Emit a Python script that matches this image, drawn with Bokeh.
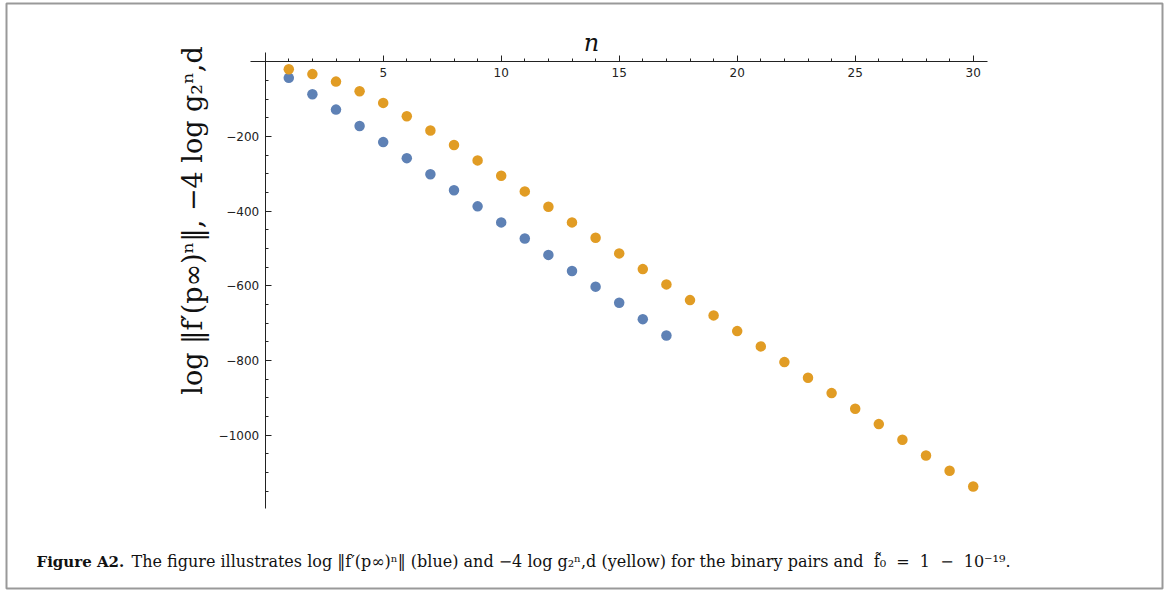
import math
from bokeh.plotting import figure
from bokeh.models import Range1d, FixedTicker, Label, BoxAnnotation, LinearAxis
from bokeh.embed import file_html
from bokeh.resources import INLINE

# ---- data ----
n_blue = list(range(1, 18))
blue_vals = [-43, -87, -128, -172, -215, -258, -301, -344, -387, -430,
             -473, -517, -560, -602, -645, -689, -733]
n_orange = list(range(1, 31))
orange_vals = [-20, -33, -53, -79, -110, -146, -184, -223, -264, -305,
               -347, -388, -430, -471, -513, -555, -596, -638, -679, -721,
               -762, -804, -846, -887, -929, -970, -1012, -1054, -1095, -1137]
x_ticks = [5, 10, 15, 20, 25, 30]
x_minor = list(range(1, 31))
y_ticks = [-1000, -800, -600, -400, -200]
y_minor = list(range(-1150, 0, 50))

BLUE = "#5E81B5"
ORANGE = "#E19C24"

W, H = 1168, 590

p = figure(width=W, height=H, output_backend="svg", toolbar_location=None,
           x_range=Range1d(-11.216, 38.275), y_range=Range1d(-1415.5, 164.1),
           x_axis_location=None, y_axis_location=None,
           min_border_left=0, min_border_right=0,
           min_border_top=0, min_border_bottom=0)
p.grid.visible = False
p.outline_line_color = None
p.background_fill_color = "white"
p.border_fill_color = "white"

xaxis = LinearAxis(fixed_location=0, bounds=(-0.62, 30.6),
                   ticker=FixedTicker(ticks=x_ticks, minor_ticks=x_minor))
yaxis = LinearAxis(fixed_location=0, bounds=(-1196, 24.9),
                   ticker=FixedTicker(ticks=y_ticks, minor_ticks=y_minor))
for ax in (xaxis, yaxis):
    ax.axis_line_color = "#222222"
    ax.major_tick_line_color = "#222222"
    ax.minor_tick_line_color = "#222222"
    ax.major_tick_in = 6
    ax.major_tick_out = 0
    ax.minor_tick_in = 3
    ax.minor_tick_out = 0
    ax.major_label_text_font = "DejaVu Sans"
    ax.major_label_text_font_size = "12px"
    ax.major_label_text_color = "#222222"
xaxis.major_label_standoff = 6
yaxis.major_label_standoff = 6
p.add_layout(xaxis, "below")
p.add_layout(yaxis, "left")

p.scatter(n_blue, blue_vals, size=10.5, fill_color=BLUE, line_color=None)
p.scatter(n_orange, orange_vals, size=10.5, fill_color=ORANGE, line_color=None)

# axis titles (screen units: x from left, y from bottom of canvas)
p.add_layout(Label(x=591, y=H - 42, x_units="screen", y_units="screen",
                   text="n", text_font="DejaVu Serif", text_font_style="italic",
                   text_font_size="24px", text_align="center", text_baseline="alphabetic",
                   text_color="#111111"))
p.add_layout(Label(x=192, y=H - 220, x_units="screen", y_units="screen",
                   text="log \u2016f\u2032(p\u221e)\u207f\u2016,\u00a0\u22124 log g\u2082\u207f,d",
                   angle=math.pi / 2, text_font="DejaVu Serif", text_font_size="27px",
                   text_align="center", text_baseline="middle", text_color="#111111"))

# caption
p.add_layout(Label(x=36, y=H - 561, x_units="screen", y_units="screen",
                   text="Figure A2.", text_font="DejaVu Serif", text_font_style="bold",
                   text_font_size="15px", text_baseline="alphabetic", text_color="#111111"))
p.add_layout(Label(x=131, y=H - 561, x_units="screen", y_units="screen",
                   text="The figure illustrates log \u2016f\u2032(p\u221e)\u207f\u2016 (blue) and \u22124 log g\u2082\u207f,d (yellow) for the binary pairs and\u00a0 f\u0303\u2080\u00a0 =\u00a0 1\u00a0 \u2212\u00a0 10\u207b\u00b9\u2079.",
                   text_font="DejaVu Serif",
                   text_font_size="16px", text_baseline="alphabetic", text_color="#111111"))

# outer border
p.add_layout(BoxAnnotation(left=6, right=1162, top=H - 3, bottom=H - 588,
                           left_units="screen", right_units="screen",
                           top_units="screen", bottom_units="screen",
                           fill_alpha=0, line_color="#999999", line_alpha=1.0, line_width=2))

open("out.html", "w").write(file_html(p, INLINE))
